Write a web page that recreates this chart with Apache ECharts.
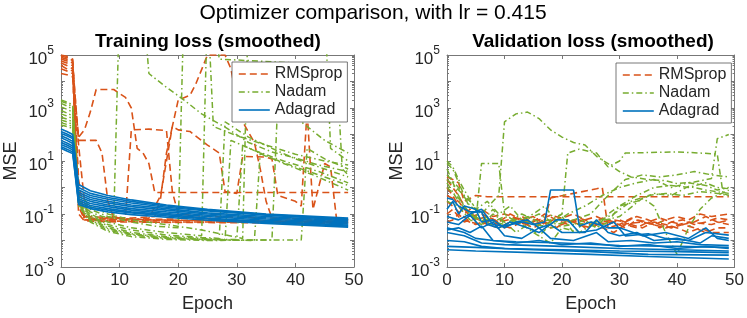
<!DOCTYPE html>
<html><head><meta charset="utf-8">
<script src="https://cdn.jsdelivr.net/npm/echarts@6/dist/echarts.min.js"></script>
<style>html,body{margin:0;padding:0;background:#fff}#c{width:747px;height:318px}</style>
</head><body><div id="c"></div><script>
// ---------------- data (epoch, MSE) ----------------
const optimizers = ['RMSprop', 'Nadam', 'Adagrad'];
const epochTicks = [0, 10, 20, 30, 40, 50];
const logTickExponents = [-3, -2, -1, 0, 1, 2, 3, 4, 5];

const trainAdagrad = [
 [[0,160],[1,130],[2,100],[3,1.3],[5,0.75],[8,0.5],[12,0.34],[18,0.22],[25,0.15],[35,0.1],[49,0.07]],
 [[0,130],[1,105],[2,80],[3,1.0],[5,0.6],[8,0.42],[12,0.3],[18,0.2],[25,0.14],[35,0.095],[49,0.065]],
 [[0,110],[1,90],[2,70],[3,0.8],[5,0.5],[8,0.36],[12,0.26],[18,0.18],[25,0.13],[35,0.09],[49,0.06]],
 [[0,90],[1,72],[2,55],[3,0.65],[5,0.42],[8,0.3],[12,0.22],[18,0.16],[25,0.11],[35,0.08],[49,0.055]],
 [[0,75],[1,60],[2,46],[3,0.55],[5,0.35],[8,0.26],[12,0.19],[18,0.14],[25,0.1],[35,0.072],[49,0.05]],
 [[0,60],[1,48],[2,37],[3,0.45],[5,0.3],[8,0.22],[12,0.16],[18,0.12],[25,0.09],[35,0.065],[49,0.046]],
 [[0,50],[1,40],[2,31],[3,0.38],[5,0.25],[8,0.19],[12,0.14],[18,0.105],[25,0.08],[35,0.058],[49,0.042]],
 [[0,42],[1,34],[2,26],[3,0.32],[5,0.21],[8,0.16],[12,0.12],[18,0.095],[25,0.07],[35,0.052],[49,0.038]],
 [[0,35],[1,28],[2,22],[3,0.27],[5,0.18],[8,0.14],[12,0.11],[18,0.085],[25,0.065],[35,0.048],[49,0.035]],
 [[0,30],[1,24],[2,19],[3,0.23],[5,0.16],[8,0.12],[12,0.095],[18,0.075],[25,0.058],[35,0.044],[49,0.032]]
];
const trainNadam = [
 [[0,2000],[1,1700],[2,1300],[3,0.3],[5,0.12],[7,0.08],[9,0.07],[10,1e7],[14,1e7],[15,2e4],[18,6000],[21,2000],[24,600],[28,190],[32,50],[36,22],[40,13],[44,7],[49,4]],
 [[0,1500],[1,1200],[2,900],[3,0.5],[5,0.15],[8,0.08],[12,0.05],[16,0.035],[20,0.03],[21,1e7],[26,1e7],[27,7e4],[40,5e4],[47,4e4],[48,5],[49,3]],
 [[0,1100],[1,900],[2,700],[3,0.4],[5,0.1],[8,0.05],[12,0.03],[18,0.02],[24,0.015],[25,1e7],[26,200],[30,90],[35,40],[40,18],[45,10],[49,7]],
 [[0,800],[1,650],[2,500],[3,0.35],[5,0.09],[8,0.04],[12,0.025],[18,0.016],[24,0.013],[27,0.012],[28,300],[32,80],[36,30],[40,12],[45,5],[49,2.5]],
 [[0,600],[1,500],[2,400],[3,0.3],[5,0.08],[8,0.035],[12,0.02],[18,0.014],[24,0.012],[28,0.011],[29,60],[33,25],[38,10],[44,4],[49,1.5]],
 [[0,450],[1,380],[2,300],[3,0.28],[5,0.07],[8,0.03],[12,0.018],[18,0.013],[24,0.011],[30,0.011],[31,40],[35,15],[40,6],[45,2.5],[49,1.2]],
 [[0,350],[1,300],[2,240],[3,0.25],[5,0.06],[8,0.028],[12,0.017],[18,0.012],[24,0.011],[33,0.01],[34,20],[38,8],[43,3],[49,0.8]],
 [[0,280],[1,240],[2,200],[3,0.22],[5,0.055],[8,0.025],[12,0.016],[18,0.012],[25,0.0105],[41,0.0105],[42,30],[45,12],[49,5]],
 [[0,1800],[1,1500],[2,1100],[3,0.6],[5,0.2],[8,0.1],[12,0.06],[18,0.04],[24,0.025],[31,0.012],[32,1e7],[45,1e7],[46,30],[49,10]],
 [[0,230],[1,200],[2,170],[3,0.2],[5,0.05],[8,0.022],[12,0.014],[18,0.011],[25,0.01],[36,0.0105],[37,2000],[41,300],[45,60],[49,20]]
];
const trainRMSprop = [
 [[0,8e4],[1,7e4],[2,5e4],[3,0.1],[4,0.055],[10,0.05],[20,0.048],[30,0.047],[49,0.045]],
 [[0,5e4],[1,4e4],[2,3e4],[3,0.2],[4,0.06],[8,0.055],[15,0.05],[25,0.05],[35,0.048],[49,0.047]],
 [[0,1e5],[1,9e4],[2,6e4],[3,2],[4,0.08],[6,0.06],[9,0.08],[11,0.06],[20,0.065],[22,0.09],[23,0.06],[49,0.05]],
 [[0,3e4],[1,2.5e4],[2,2e4],[3,80],[4,150],[5,700],[6,5000],[9,5000],[10,3500],[11,2500],[12,1000],[13,30],[14,20],[15,8],[16,0.65],[49,0.65]],
 [[0,6e4],[1,5e4],[2,4e4],[3,60],[4,60],[6,60],[7,20],[8,0.3],[9,0.07],[15,0.06],[49,0.05]],
 [[0,4e4],[1,3e4],[2,2.5e4],[3,0.3],[4,0.07],[12,0.06],[15,0.07],[17,0.5],[18,10],[19,200],[20,2000],[22,3000],[23,8000],[25,1e5],[28,1e5],[29,3e4],[30,2000],[31,300],[33,50],[34,5],[35,0.3],[36,0.07],[49,0.05]],
 [[0,2e4],[1,1.8e4],[2,1.5e4],[3,0.4],[4,0.08],[12,0.07],[16,0.08],[17,0.4],[18,20],[19,200],[20,150],[22,130],[25,40],[27,20],[28,0.7],[30,0.6],[31,15],[35,14],[36,12],[37,0.5],[40,0.3],[41,0.2],[42,800],[43,0.15],[45,8],[46,6],[47,0.07],[49,0.06]],
 [[0,7e4],[1,6e4],[2,5e4],[3,40],[4,0.3],[5,0.06],[11,0.07],[12,150],[15,160],[18,140],[19,0.7],[20,0.1],[25,0.08],[49,0.06]],
 [[0,9e4],[1,8e4],[2,7e4],[3,0.8],[4,0.06],[49,0.05]]
];

const valAdagrad = [
 [[0,0.0045],[5,0.004],[15,0.0035],[25,0.003],[35,0.0025],[49,0.002]],
 [[0,0.006],[5,0.0055],[15,0.0045],[25,0.0038],[35,0.003],[49,0.0028]],
 [[0,0.01],[3,0.009],[6,0.006],[10,0.005],[20,0.0045],[30,0.004],[40,0.0038],[49,0.0035]],
 [[0,0.02],[3,0.015],[6,0.008],[10,0.007],[20,0.006],[30,0.005],[40,0.0045],[49,0.004]],
 [[0,0.03],[3,0.02],[5,0.012],[8,0.01],[12,0.009],[20,0.008],[30,0.0065],[40,0.006],[49,0.0055]],
 [[0,0.05],[2,0.04],[4,0.09],[6,0.03],[8,0.05],[10,0.015],[13,0.012],[16,0.03],[18,0.012],[22,0.01],[26,0.02],[28,0.009],[32,0.01],[36,0.008],[40,0.009],[44,0.007],[49,0.0065]],
 [[0,0.15],[1,0.3],[2,0.1],[3,0.2],[5,0.15],[6,0.05],[8,0.06],[10,0.03],[12,0.05],[14,0.06],[16,0.03],[18,0.04],[20,0.02],[24,0.02],[26,0.06],[28,0.02],[30,0.015],[33,0.02],[36,0.01],[40,0.012],[44,0.008],[46,0.015],[49,0.012]],
 [[0,0.08],[2,0.06],[4,0.1],[6,0.15],[8,0.04],[10,0.035],[13,0.05],[15,0.04],[17,0.05],[18,0.8],[22,0.8],[23,0.035],[25,0.05],[28,0.03],[30,0.03],[34,0.015],[38,0.02],[42,0.012],[45,0.03],[47,0.012],[49,0.01]],
 [[0,0.4],[1,0.35],[2,0.2],[4,0.12],[6,0.12],[7,0.04],[9,0.03],[11,0.05],[14,0.03],[16,0.02],[19,0.06],[21,0.06],[23,0.02],[26,0.025],[29,0.05],[31,0.015],[35,0.018],[38,0.012],[42,0.01],[45,0.02],[49,0.016]],
 [[0,0.025],[2,0.03],[4,0.02],[6,0.035],[8,0.01],[12,0.008],[16,0.01],[20,0.007],[25,0.008],[30,0.006],[35,0.007],[40,0.005],[45,0.006],[49,0.005]]
];
const valNadam = [
 [[0,3],[2,1],[4,0.2],[6,0.1],[8,0.3],[9,0.5],[10,300],[12,600],[14,700],[16,400],[18,150],[20,80],[22,50],[24,40],[26,15],[28,8],[30,4],[32,2.5],[35,2],[38,1.8],[40,1.4],[43,1.6],[46,2.2],[47,70],[49,100]],
 [[0,8],[1,5],[3,0.5],[5,0.05],[6,8],[9,8],[10,0.1],[12,0.05],[14,0.08],[16,0.03],[18,0.05],[20,0.1],[22,0.04],[24,0.06],[26,0.03],[28,0.05],[30,0.2],[33,0.3],[36,0.6],[39,0.5],[42,1.1],[45,0.8],[49,0.6]],
 [[0,1.5],[2,0.3],[4,0.1],[6,0.05],[8,0.15],[10,0.04],[13,0.1],[16,0.05],[18,0.06],[20,0.1],[21,20],[23,28],[26,20],[28,6],[30,10],[31,20],[40,22],[44,20],[47,18],[48,0.6],[49,0.5]],
 [[0,5],[2,0.5],[4,0.08],[7,0.06],[10,0.04],[14,0.05],[18,0.03],[22,0.04],[26,0.05],[30,0.08],[34,0.4],[36,0.2],[38,0.02],[40,0.003],[42,0.03],[44,0.15],[46,0.4],[49,0.8]],
 [[0,2],[2,0.8],[4,0.3],[6,0.1],[8,0.05],[10,0.08],[13,0.05],[16,0.1],[19,0.04],[22,0.06],[25,0.1],[27,0.3],[29,0.8],[31,2],[34,3],[37,2.5],[40,3],[43,4],[46,3],[49,2.5]],
 [[0,1],[2,0.4],[4,0.1],[6,0.06],[9,0.03],[12,0.06],[15,0.02],[18,0.008],[20,0.03],[23,0.02],[26,0.05],[29,0.1],[32,0.3],[35,0.5],[38,0.6],[41,0.5],[44,0.7],[47,0.6],[49,0.5]],
 [[0,0.3],[2,0.2],[4,0.06],[6,0.04],[8,0.1],[10,0.05],[12,0.02],[14,0.04],[16,0.015],[18,0.04],[20,0.08],[22,0.02],[24,0.05],[26,0.03],[28,0.1],[30,0.2],[33,0.5],[36,1],[39,1.2],[42,1],[45,1.5],[47,1],[49,0.9]],
 [[0,10],[1,6],[2,2],[3,0.8],[5,0.15],[7,0.3],[9,0.1],[11,0.2],[13,0.06],[15,0.1],[17,0.2],[19,0.05],[21,0.1],[24,0.2],[27,0.5],[30,1],[33,1.5],[36,2],[39,1],[42,1.5],[45,1.2],[47,0.8],[49,1]]
];
const valRMSprop = [
 [[0,2.5],[1,2],[2,1.5],[3,0.3],[5,0.5],[7,0.45],[49,0.45]],
 [[0,0.5],[2,0.3],[4,0.08],[6,0.1],[9,0.05],[12,0.07],[15,0.04],[17,0.06],[18,0.4],[22,0.6],[26,0.9],[27,1],[28,0.03],[30,0.04],[34,0.05],[38,0.03],[42,0.05],[46,0.04],[49,0.06]],
 [[0,1],[1,0.5],[2,0.2],[3,0.1],[4,0.15],[5,0.06],[7,0.08],[9,0.05],[11,0.1],[13,0.06],[15,0.08],[17,0.04],[19,0.07],[21,0.05],[23,0.06],[25,0.04],[27,0.07],[29,0.05],[31,0.03],[33,0.06],[35,0.05],[37,0.03],[39,0.05],[41,0.06],[43,0.04],[45,0.05],[47,0.07],[49,0.06]],
 [[0,0.3],[1,0.2],[2,0.12],[4,0.05],[6,0.04],[8,0.06],[10,0.03],[12,0.05],[14,0.04],[16,0.07],[18,0.03],[20,0.04],[22,0.06],[24,0.03],[26,0.05],[28,0.04],[30,0.06],[32,0.04],[34,0.03],[36,0.05],[38,0.04],[40,0.03],[42,0.02],[44,0.03],[46,0.02],[49,0.02]],
 [[0,0.1],[1,0.15],[2,0.08],[3,0.05],[5,0.07],[7,0.04],[9,0.03],[11,0.05],[13,0.08],[15,0.05],[17,0.1],[19,0.06],[21,0.04],[23,0.07],[25,0.05],[27,0.03],[29,0.02],[31,0.04],[33,0.03],[35,0.05],[37,0.07],[39,0.05],[41,0.04],[43,0.05],[45,0.08],[47,0.05],[49,0.04]],
 [[0,0.05],[1,0.06],[2,0.1],[3,0.06],[5,0.04],[7,0.06],[9,0.04],[11,0.03],[13,0.05],[15,0.03],[17,0.05],[19,0.03],[21,0.06],[23,0.04],[25,0.03],[27,0.05],[29,0.06],[31,0.05],[33,0.08],[35,0.06],[37,0.04],[39,0.03],[41,0.04],[43,0.03],[45,0.02],[47,0.03],[49,0.03]],
 [[0,2],[1,1],[2,0.5],[3,0.2],[4,0.1],[6,0.15],[8,0.08],[10,0.1],[12,0.07],[14,0.05],[16,0.06],[18,0.09],[20,0.07],[22,0.1],[24,0.06],[26,0.08],[28,0.05],[30,0.04],[32,0.07],[34,0.05],[36,0.04],[38,0.06],[40,0.08],[42,0.06],[44,0.1],[46,0.08],[49,0.1]]
];

// ---------------- styling ----------------
const FONT = 'Liberation Sans, Arial, Helvetica, sans-serif';
const TXT = '#262626';
const AX = '#777777';
const styles = {
  RMSprop: {color: '#D95319', type: [7, 4], width: 1.6},
  Nadam:   {color: '#77AC30', type: [6, 3, 1.5, 3], width: 1.5},
  Adagrad: {color: '#0072BD', type: 'solid', width: 1.6}
};
const grids = [
  {left: 61, right: 393, top: 55, bottom: 51},
  {left: 447, right: 8, top: 55, bottom: 51}
];
const minorExps = [];
for (let d = -3; d < 5; d++) for (let k = 2; k <= 9; k++) minorExps.push(d + Math.log10(k));

const xAxes = [], yAxes = [], series = [];
const lineOff = {onZero: false, lineStyle: {color: AX, width: 1}};
grids.forEach((g, gi) => {
  xAxes.push({gridIndex: gi, type: 'value', min: 0, max: 50, interval: 10, position: 'bottom',
    axisLine: lineOff, splitLine: {show: false},
    axisTick: {inside: true, length: 4, lineStyle: {color: AX}},
    axisLabel: {fontSize: 17, color: TXT, fontFamily: FONT, margin: 5},
    name: 'Epoch', nameLocation: 'middle', nameGap: 28,
    nameTextStyle: {fontSize: 18, color: TXT, fontFamily: FONT}});
  xAxes.push({gridIndex: gi, type: 'value', min: 0, max: 50, interval: 10, position: 'top',
    axisLine: lineOff, splitLine: {show: false},
    axisTick: {inside: true, length: 4, lineStyle: {color: AX}}, axisLabel: {show: false}});
  // data axis (log)
  yAxes.push({gridIndex: gi, type: 'log', logBase: 10, min: 1e-3, max: 1e5, show: false});
  // decoration axes in exponent space
  yAxes.push({gridIndex: gi, type: 'value', min: -3, max: 5, interval: 1, position: 'left',
    axisLine: Object.assign({show: true}, lineOff), splitLine: {show: false},
    axisTick: {inside: true, length: 4, lineStyle: {color: AX}},
    axisLabel: {color: TXT, fontFamily: FONT, margin: 7,
      formatter: v => (Math.round(v) % 2 !== 0) ? '{b|10}{s|' + Math.round(v) + '}' : '',
      rich: {b: {fontSize: 17, fontFamily: FONT, color: TXT, padding: [8, 0, 0, 0]},
             s: {fontSize: 12, fontFamily: FONT, color: TXT, padding: [0, 0, 9, 0]}}},
    name: 'MSE', nameLocation: 'middle', nameGap: 33,
    nameTextStyle: {fontSize: 18, color: TXT, fontFamily: FONT}});
  yAxes.push({gridIndex: gi, type: 'value', min: -3, max: 5, interval: 1, position: 'right',
    axisLine: Object.assign({show: true}, lineOff), splitLine: {show: false},
    axisTick: {inside: true, length: 4, lineStyle: {color: AX}}, axisLabel: {show: false}});
  yAxes.push({gridIndex: gi, type: 'value', min: -3, max: 5, position: 'left',
    axisLine: {show: false, onZero: false}, splitLine: {show: false},
    axisTick: {inside: true, length: 2, customValues: minorExps, lineStyle: {color: AX}},
    axisLabel: {show: false}});
  yAxes.push({gridIndex: gi, type: 'value', min: -3, max: 5, position: 'right',
    axisLine: {show: false, onZero: false}, splitLine: {show: false},
    axisTick: {inside: true, length: 2, customValues: minorExps, lineStyle: {color: AX}},
    axisLabel: {show: false}});
});

function addRuns(runs, name, gi) {
  const s = styles[name];
  runs.forEach(r => series.push({
    type: 'line', name: name, data: r, xAxisIndex: gi * 2, yAxisIndex: gi * 5,
    symbol: 'none', clip: true, silent: true,
    lineStyle: {color: s.color, type: s.type, width: s.width}, itemStyle: {color: s.color}
  }));
}
addRuns(trainRMSprop, 'RMSprop', 0);
addRuns(trainNadam, 'Nadam', 0);
addRuns(trainAdagrad, 'Adagrad', 0);
addRuns(valRMSprop, 'RMSprop', 1);
addRuns(valNadam, 'Nadam', 1);
addRuns(valAdagrad, 'Adagrad', 1);

const legendBase = {
  orient: 'vertical', data: optimizers, itemWidth: 31, itemHeight: 14, itemGap: 2,
  backgroundColor: '#fff', borderColor: '#555', borderWidth: 0.8, borderRadius: 0,
  padding: [4, 5, 4, 6], selectedMode: false,
  itemStyle: {color: 'rgba(0,0,0,0)', borderWidth: 0, opacity: 0},
  lineStyle: {width: 1.6},
  textStyle: {fontSize: 16, color: TXT, fontFamily: FONT}
};

const chart = echarts.init(document.getElementById('c'), null, {renderer: 'canvas'});
chart.setOption({
  animation: false,
  backgroundColor: '#fff',
  title: [
    {text: 'Optimizer comparison, with lr = 0.415', left: 373, top: 3, textAlign: 'center', padding: 0,
     textStyle: {fontSize: 21, fontWeight: 'normal', color: '#000', fontFamily: FONT}},
    {text: 'Training loss (smoothed)', left: 208, top: 32, textAlign: 'center', padding: 0,
     textStyle: {fontSize: 19, fontWeight: 'bold', color: '#000', fontFamily: FONT}},
    {text: 'Validation loss (smoothed)', left: 593, top: 32, textAlign: 'center', padding: 0,
     textStyle: {fontSize: 19, fontWeight: 'bold', color: '#000', fontFamily: FONT}}
  ],
  legend: [
    Object.assign({left: 232, top: 62}, legendBase),
    Object.assign({left: 616, top: 63}, legendBase)
  ],
  grid: grids,
  xAxis: xAxes,
  yAxis: yAxes,
  series: series
});
</script></body></html>
